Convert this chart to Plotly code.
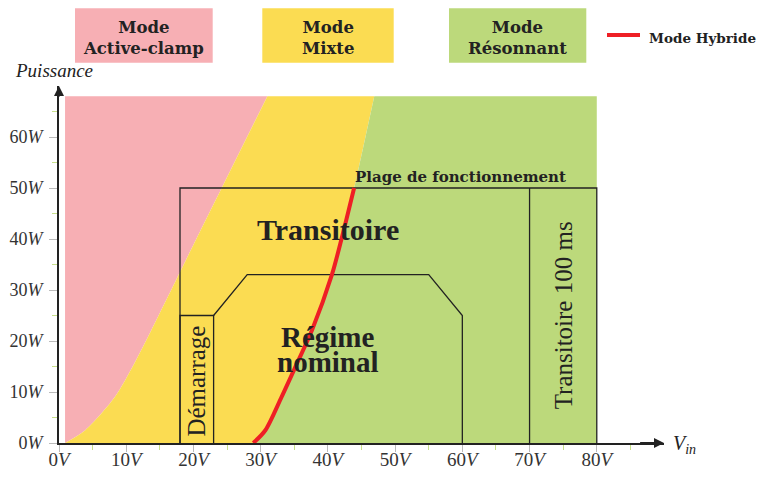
import plotly.graph_objects as go

# frontiere Active-clamp / Mixte (V, W)
v_clamp = [0.9, 3.9, 8.3, 11.2, 13.7, 17.4, 21.1, 24.2, 31.0]
p_clamp = [0, 2.5, 9, 15.6, 22, 31.9, 41.8, 50, 68]

# mode hybride (frontiere Mixte / Resonnant)
v_hyb = [28.9, 30.7, 33.1, 35.4, 37.6, 40.6, 42.1, 43.9]
p_hyb = [0, 2.5, 9, 15.6, 22, 33, 40.4, 50]
v_top, p_top = 46.9, 68
v_right = 80

# zones de fonctionnement
plage_v = [18, 18, 80, 80]
plage_p = [0, 50, 50, 0]
trans_v = [70, 70]
trans_p = [0, 50]
dem_v = [18, 18, 23, 23]
dem_p = [0, 25, 25, 0]
nom_v = [23, 28, 55, 60, 60]
nom_p = [25, 33, 33, 25, 0]

x_ticks = [0, 10, 20, 30, 40, 50, 60, 70, 80]
x_labels = [f"{v}<i>V</i>" for v in x_ticks]
y_ticks = [0, 10, 20, 30, 40, 50, 60]
y_labels = [f"{p}<i>W</i>" for p in y_ticks]

pink = "#F7AFB4"
yellow = "#FBDC52"
green = "#BCD97B"
red = "#EE1F25"
ink = "#222222"

fig = go.Figure()

# zones colorees
fig.add_trace(go.Scatter(x=[v_clamp[0], v_clamp[0]], y=[0, p_top], mode="lines",
                         line=dict(width=0), hoverinfo="skip"))
fig.add_trace(go.Scatter(x=v_clamp, y=p_clamp, mode="lines", fill="tonextx",
                         fillcolor=pink, line=dict(width=0, shape="spline", smoothing=0.8),
                         hoverinfo="skip"))
fig.add_trace(go.Scatter(x=v_hyb + [v_top], y=p_hyb + [p_top], mode="lines", fill="tonextx",
                         fillcolor=yellow, line=dict(width=0, shape="spline", smoothing=0.8),
                         hoverinfo="skip"))
fig.add_trace(go.Scatter(x=[v_right, v_right], y=[0, p_top], mode="lines", fill="tonextx",
                         fillcolor=green, line=dict(width=0), hoverinfo="skip"))

# cadres
for xs, ys in [(plage_v, plage_p), (trans_v, trans_p), (dem_v, dem_p), (nom_v, nom_p)]:
    fig.add_trace(go.Scatter(x=xs, y=ys, mode="lines", line=dict(color=ink, width=1.3),
                             hoverinfo="skip"))

# mode hybride
fig.add_trace(go.Scatter(x=v_hyb, y=p_hyb, mode="lines",
                         line=dict(color=red, width=4, shape="spline", smoothing=0.8),
                         hoverinfo="skip"))

# la page a une marge de 8 px : positions mesurees dans la fenetre moins 8
OFF = 8
W, H = 768 - OFF, 478 - OFF
L, R, T, B = 59 - OFF, 664 - OFF, 86 - OFF, 443 - OFF


def px_x(px):
    return (px - OFF - L) / (R - L)


def px_y(py):
    return (B - (py - OFF)) / (B - T)


serif = "Liberation Serif"
bold = "DejaVu Serif"

# legende en haut
legend_boxes = [(75, 212.7, pink, "Mode<br>Active-clamp"),
                (262.3, 393.7, yellow, "Mode<br>Mixte"),
                (449, 586.3, green, "Mode<br>Résonnant")]
for x0, x1, col, txt in legend_boxes:
    fig.add_shape(type="rect", xref="paper", yref="paper", x0=px_x(x0), x1=px_x(x1),
                  y0=px_y(62.7), y1=px_y(8.3), fillcolor=col, line=dict(width=0))
    fig.add_annotation(xref="paper", yref="paper", x=px_x((x0 + x1) / 2), y=px_y(38),
                       text=f"<b>{txt}</b>", showarrow=False, xanchor="center", yanchor="middle",
                       font=dict(family=bold, size=16.5, color=ink))
fig.add_shape(type="line", xref="paper", yref="paper", x0=px_x(607), x1=px_x(640),
              y0=px_y(35), y1=px_y(35), line=dict(color=red, width=4))
fig.add_annotation(xref="paper", yref="paper", x=px_x(647), y=px_y(38),
                   text="<b>Mode Hybride</b>", showarrow=False, xanchor="left", yanchor="middle",
                   font=dict(family=bold, size=13.5, color=ink))

# textes dans le graphe
fig.add_annotation(x=59.7, y=52.2, text="<b>Plage de fonctionnement</b>", showarrow=False,
                   font=dict(family=bold, size=15, color=ink))
fig.add_annotation(x=40, y=41.8, text="<b>Transitoire</b>", showarrow=False,
                   font=dict(family=serif, size=30, color=ink))
fig.add_annotation(x=40, y=20.8, text="<b>Régime</b>", showarrow=False,
                   font=dict(family=serif, size=29, color=ink))
fig.add_annotation(x=40, y=15.8, text="<b>nominal</b>", showarrow=False,
                   font=dict(family=serif, size=29, color=ink))
fig.add_annotation(x=20.5, y=12.2, text="Démarrage", showarrow=False, textangle=-90,
                   font=dict(family=serif, size=25, color=ink))
fig.add_annotation(x=75.1, y=25, text="Transitoire 100 ms", showarrow=False, textangle=-90,
                   font=dict(family=serif, size=25, color=ink))

# titres d'axes
fig.add_annotation(xref="paper", yref="paper", x=px_x(13), y=px_y(71), text="<i>Puissance</i>",
                   showarrow=False, xanchor="left", yanchor="middle",
                   font=dict(family=serif, size=19, color=ink))
fig.add_annotation(xref="paper", yref="paper", x=px_x(671), y=px_y(444),
                   text="<i>V<sub>in</sub></i>", showarrow=False, xanchor="left", yanchor="middle",
                   font=dict(family=serif, size=20, color=ink))

# fleches des axes
fig.add_annotation(x=90, y=0, ax=86, ay=0, axref="x", ayref="y", text=" ", showarrow=True,
                   arrowhead=2, arrowsize=1, arrowwidth=2, arrowcolor=ink)
fig.add_annotation(x=0, y=70, ax=0, ay=66, axref="x", ayref="y", text=" ", showarrow=True,
                   arrowhead=2, arrowsize=1, arrowwidth=2, arrowcolor=ink)

fig.update_xaxes(range=[0, 90], tickvals=x_ticks, ticktext=x_labels, showgrid=False,
                 zeroline=False, showline=True, linecolor=ink, linewidth=2, automargin=False,
                 ticks="outside", ticklen=7, tickcolor="#BBBBBB", tickwidth=1,
                 minor=dict(tickvals=[5, 15, 25, 35, 45, 55, 65, 75, 85], ticks="outside",
                            ticklen=5, tickcolor="#C8E08C", tickwidth=1, showgrid=False),
                 ticklabelstandoff=-9,
                 tickfont=dict(family=serif, size=19, color="#333333"))
fig.update_yaxes(range=[0, 70], tickvals=y_ticks, ticktext=y_labels, showgrid=False,
                 zeroline=False, showline=True, linecolor=ink, linewidth=2, automargin=False,
                 ticks="outside", ticklen=8, tickcolor="#BBBBBB", tickwidth=1,
                 minor=dict(tickvals=[5, 15, 25, 35, 45, 55, 65], ticks="outside",
                            ticklen=5, tickcolor="#C8E08C", tickwidth=1, showgrid=False),
                 ticklabelstandoff=3,
                 tickfont=dict(family=serif, size=18, color="#333333"))

fig.update_layout(width=W, height=H, margin=dict(l=L, r=W - R, t=T, b=H - B),
                  plot_bgcolor="white", paper_bgcolor="white", showlegend=False)

fig.write_html("out.html")
